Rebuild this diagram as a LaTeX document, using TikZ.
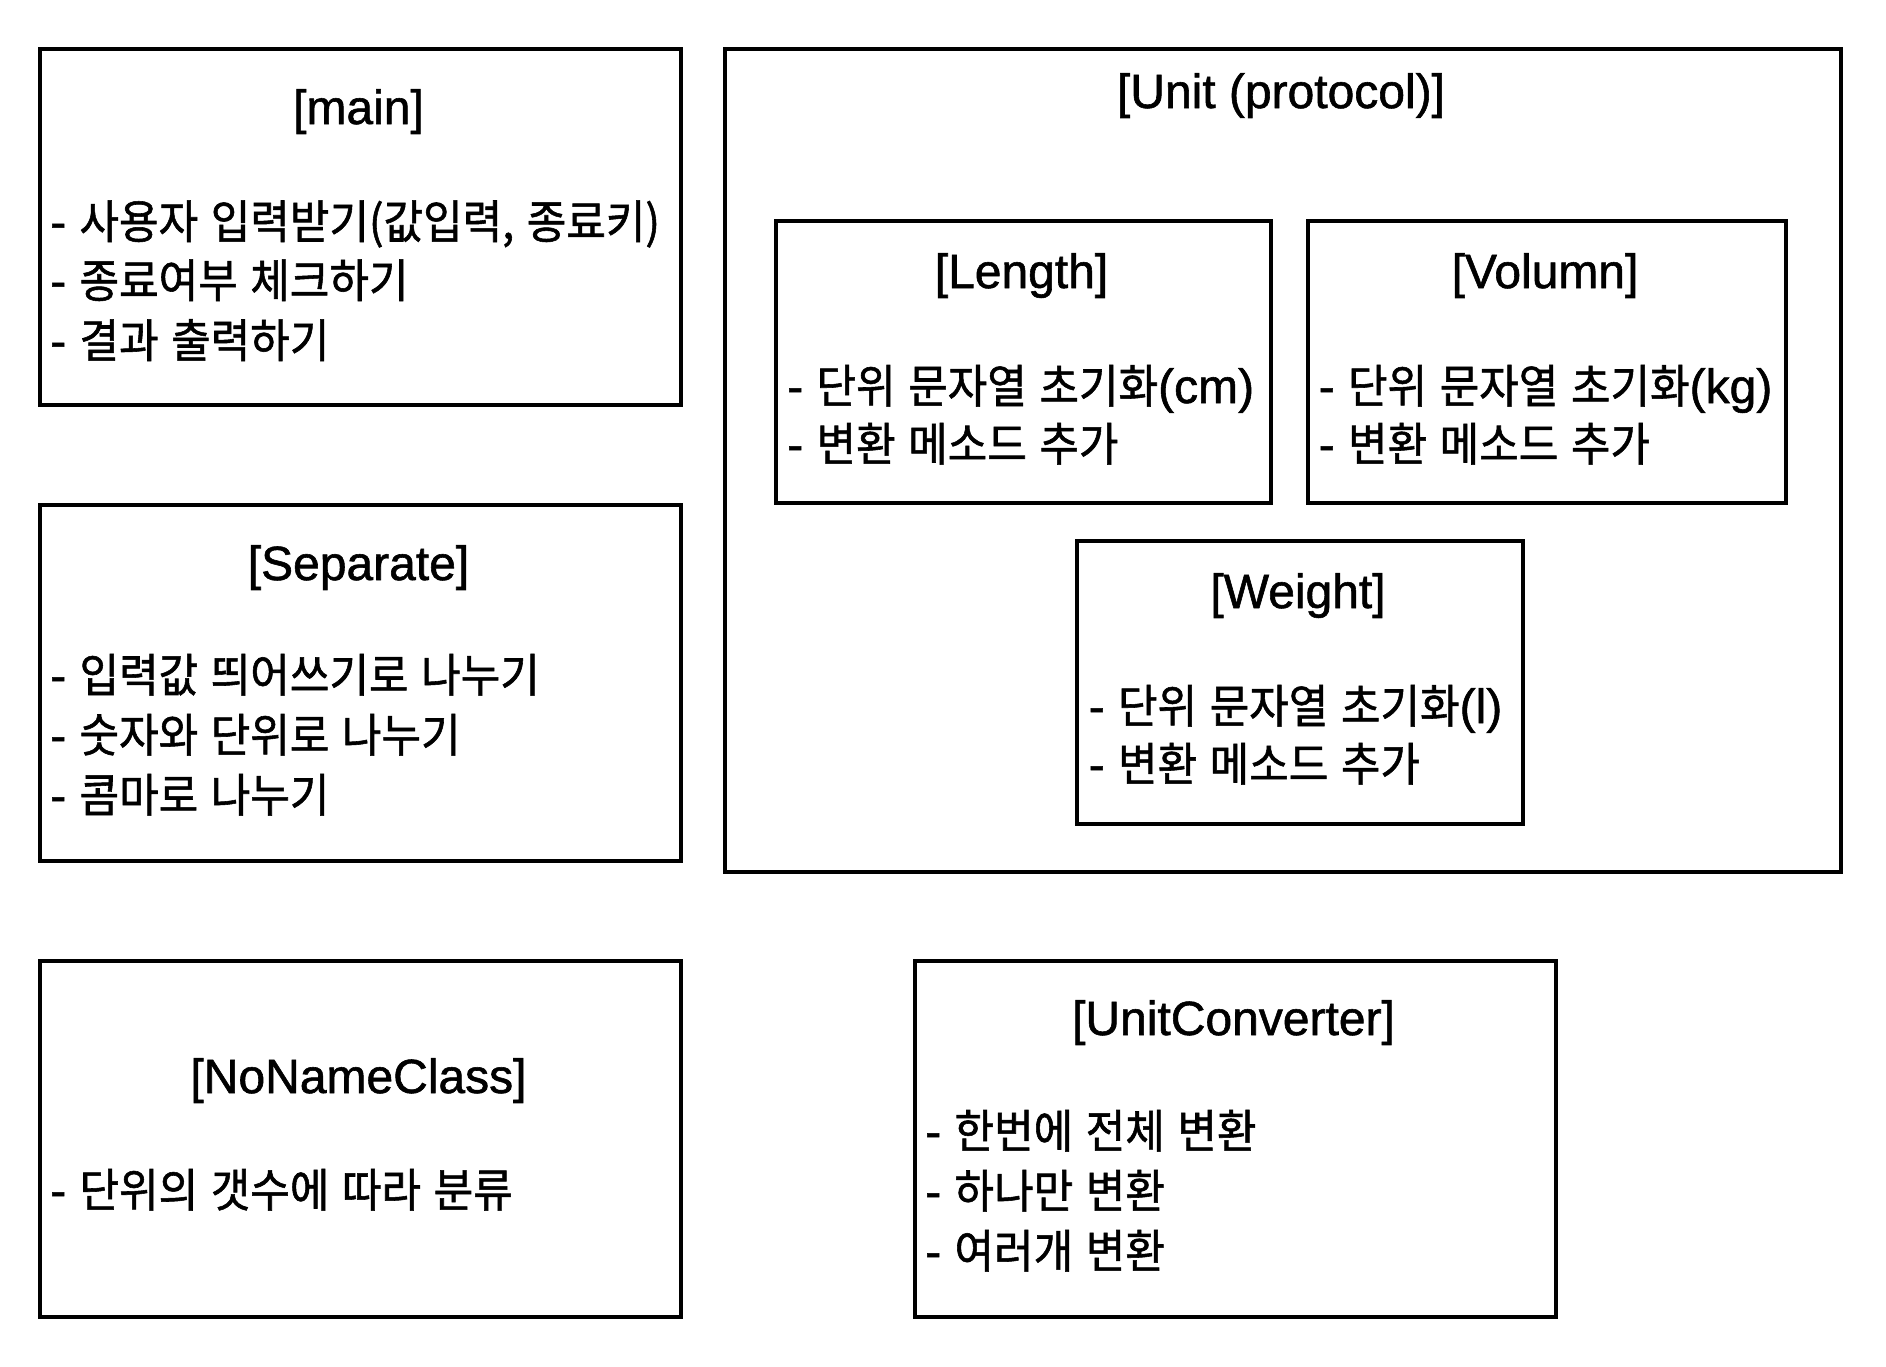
\documentclass[tikz,border=0pt]{standalone}
\usepackage{fontspec}
\setmainfont{Liberation Sans}[FakeBold=1.2]
\newfontfamily\krfont{Noto Sans CJK KR}[FakeStretch=0.935,FakeBold=1.2,WordSpace=1.3]
\newcommand\hk[1]{{\krfont\fontsize{46}{56}\selectfont #1}}
\begin{document}
\begin{tikzpicture}[x=1pt,y=-1pt,
  box/.style={draw, line width=3.5pt, anchor=north west, inner sep=0pt},
  ttl/.style={anchor=base, inner sep=0pt, font=\fontsize{48}{56}\selectfont},
  itm/.style={anchor=base west, inner sep=0pt, font=\fontsize{48}{56}\selectfont}]
\useasboundingbox (0,0) rectangle (1886,1366);
% boxes
\node[box, minimum width=641pt, minimum height=356pt] (main) at (38,47) {};
\node[box, minimum width=641pt, minimum height=356pt] (sep) at (38,503) {};
\node[box, minimum width=641pt, minimum height=356pt] (non) at (38,959) {};
\node[box, minimum width=1116pt, minimum height=823pt] (unit) at (723,47) {};
\node[box, minimum width=495pt, minimum height=282pt] (len) at (774,219) {};
\node[box, minimum width=478pt, minimum height=282pt] (vol) at (1306,219) {};
\node[box, minimum width=446pt, minimum height=283pt] (wei) at (1075,539) {};
\node[box, minimum width=641pt, minimum height=356pt] (uc) at (913,959) {};
% titles
\node[ttl] (maint) at (358.5,124) {[main]};
\node[ttl] (sept) at (358.5,580) {[Separate]};
\node[ttl] (nont) at (358.5,1093) {[NoNameClass]};
\node[ttl] (unitt) at (1281,108) {[Unit (protocol)]};
\node[ttl] (lent) at (1021.5,288) {[Length]};
\node[ttl] (volt) at (1545,288) {[Volumn]};
\node[ttl] (weit) at (1298,608) {[Weight]};
\node[ttl] (uct) at (1233.5,1035) {[UnitConverter]};
% items
\node[itm] (m1) at (50,238.5) {- \hk{사용자 입력받기(값입력, 종료키)}};
\node[itm] (m2) at (50,297.5) {- \hk{종료여부 체크하기}};
\node[itm] (m3) at (50,357.5) {- \hk{결과 출력하기}};
\node[itm] (s1) at (50,692) {- \hk{입력값 띄어쓰기로 나누기}};
\node[itm] (s2) at (50,752) {- \hk{숫자와 단위로 나누기}};
\node[itm] (s3) at (50,812) {- \hk{콤마로 나누기}};
\node[itm] (n1) at (50,1207) {- \hk{단위의 갯수에 따라 분류}};
\node[itm] (l1) at (787,403) {- \hk{단위 문자열 초기화}(cm)};
\node[itm] (l2) at (787,461) {- \hk{변환 메소드 추가}};
\node[itm] (v1) at (1318.5,403) {- \hk{단위 문자열 초기화}(kg)};
\node[itm] (v2) at (1318.5,461) {- \hk{변환 메소드 추가}};
\node[itm] (w1) at (1088.5,723) {- \hk{단위 문자열 초기화}(l)};
\node[itm] (w2) at (1088.5,781) {- \hk{변환 메소드 추가}};
\node[itm] (u1) at (925,1148) {- \hk{한번에 전체 변환}};
\node[itm] (u2) at (925,1208) {- \hk{하나만 변환}};
\node[itm] (u3) at (925,1268) {- \hk{여러개 변환}};
\end{tikzpicture}
\end{document}
